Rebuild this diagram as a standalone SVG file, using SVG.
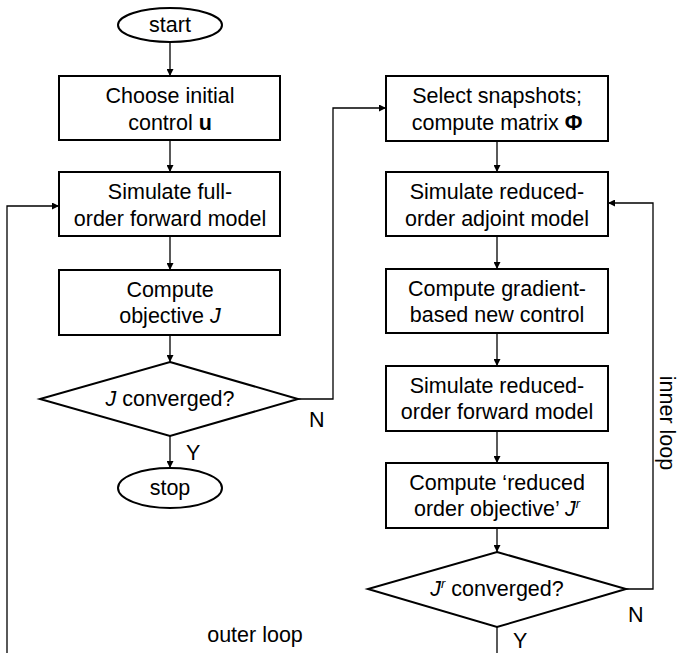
<svg xmlns="http://www.w3.org/2000/svg" width="681" height="653" viewBox="0 0 681 653">
<defs>
<style>
.node{fill:#fff;stroke:#000;stroke-width:2}
.t{font-family:"Liberation Sans",Arial,sans-serif;font-size:21.5px;fill:#000;text-anchor:middle}
.lbl{font-family:"Liberation Sans",Arial,sans-serif;font-size:21.5px;fill:#000}
.c{fill:none;stroke:#000;stroke-width:1.3}
.i{font-style:italic}
.b{font-weight:bold}
.sup{font-style:italic;font-size:13px}
</style>
<marker id="ah" viewBox="0 0 10 10" refX="10" refY="5" markerWidth="7" markerHeight="7" markerUnits="userSpaceOnUse" orient="auto">
<path d="M0,0 L10,5 L0,10 Z" fill="#000"/>
</marker>
</defs>
<rect width="681" height="653" fill="#fff"/>
<g id="connectors">
<line class="c" x1="170" y1="42" x2="170" y2="76" marker-end="url(#ah)"/>
<line class="c" x1="170" y1="140" x2="170" y2="172" marker-end="url(#ah)"/>
<line class="c" x1="170" y1="236" x2="170" y2="270" marker-end="url(#ah)"/>
<line class="c" x1="170" y1="335" x2="170" y2="362" marker-end="url(#ah)"/>
<line class="c" x1="170" y1="436" x2="170" y2="468" marker-end="url(#ah)"/>
<polyline class="c" points="298,399 333,399 333,108 386,108" marker-end="url(#ah)"/>
<polyline class="c" points="7,653 7,206 59,206" marker-end="url(#ah)"/>
<line class="c" x1="497" y1="141" x2="497" y2="172" marker-end="url(#ah)"/>
<line class="c" x1="497" y1="236" x2="497" y2="269" marker-end="url(#ah)"/>
<line class="c" x1="497" y1="333" x2="497" y2="366" marker-end="url(#ah)"/>
<line class="c" x1="497" y1="431" x2="497" y2="463" marker-end="url(#ah)"/>
<line class="c" x1="497" y1="528" x2="497" y2="552" marker-end="url(#ah)"/>
<polyline class="c" points="626,589 653,589 653,203 608,203" marker-end="url(#ah)"/>
<line class="c" x1="497" y1="627" x2="497" y2="653"/>
</g>
<g id="start">
<ellipse class="node" cx="170" cy="25" rx="52" ry="17"/>
<text class="t" x="170" y="32">start</text>
</g>
<g id="choose">
<rect class="node" x="59" y="76" width="221" height="64"/>
<text class="t" x="170" y="103">Choose initial</text>
<text class="t" x="170" y="130">control <tspan class="b">u</tspan></text>
</g>
<g id="simfull">
<rect class="node" x="59" y="172" width="221" height="64"/>
<text class="t" x="170" y="199">Simulate full-</text>
<text class="t" x="170" y="226">order forward model</text>
</g>
<g id="computeJ">
<rect class="node" x="59" y="270" width="221" height="65"/>
<text class="t" x="170" y="297">Compute</text>
<text class="t" x="170" y="323">objective <tspan class="i">J</tspan></text>
</g>
<g id="convJ">
<polygon class="node" points="170,362 298,399 170,436 40,399"/>
<text class="t" x="170" y="406"><tspan class="i">J</tspan> converged?</text>
</g>
<g id="stop">
<ellipse class="node" cx="170" cy="488" rx="52" ry="20"/>
<text class="t" x="170" y="495">stop</text>
</g>
<g id="select">
<rect class="node" x="386" y="76" width="222" height="65"/>
<text class="t" x="497" y="103">Select snapshots;</text>
<text class="t" x="497" y="130">compute matrix <tspan class="b">Φ</tspan></text>
</g>
<g id="simadj">
<rect class="node" x="386" y="172" width="222" height="64"/>
<text class="t" x="497" y="199">Simulate reduced-</text>
<text class="t" x="497" y="226">order adjoint model</text>
</g>
<g id="gradient">
<rect class="node" x="386" y="269" width="222" height="64"/>
<text class="t" x="497" y="296">Compute gradient-</text>
<text class="t" x="497" y="322">based new control</text>
</g>
<g id="simred">
<rect class="node" x="386" y="366" width="222" height="65"/>
<text class="t" x="497" y="393">Simulate reduced-</text>
<text class="t" x="497" y="419">order forward model</text>
</g>
<g id="computeJr">
<rect class="node" x="386" y="463" width="222" height="65"/>
<text class="t" x="497" y="490">Compute ‘reduced</text>
<text class="t" x="497" y="516">order objective’ <tspan class="i">J</tspan><tspan class="sup" dy="-8">r</tspan></text>
</g>
<g id="convJr">
<polygon class="node" points="497,552 626,589 497,627 368,589"/>
<text class="t" x="497" y="596"><tspan class="i">J</tspan><tspan class="sup" dy="-8">r</tspan><tspan dy="8"> converged?</tspan></text>
</g>
<g id="labels">
<text class="lbl" x="186" y="460">Y</text>
<text class="lbl" x="309" y="427">N</text>
<text class="lbl" x="513" y="648">Y</text>
<text class="lbl" x="628" y="622">N</text>
<text class="t" x="255" y="642">outer loop</text>
<text class="t" transform="translate(660,423) rotate(90)" x="0" y="0">inner loop</text>
</g>
</svg>
